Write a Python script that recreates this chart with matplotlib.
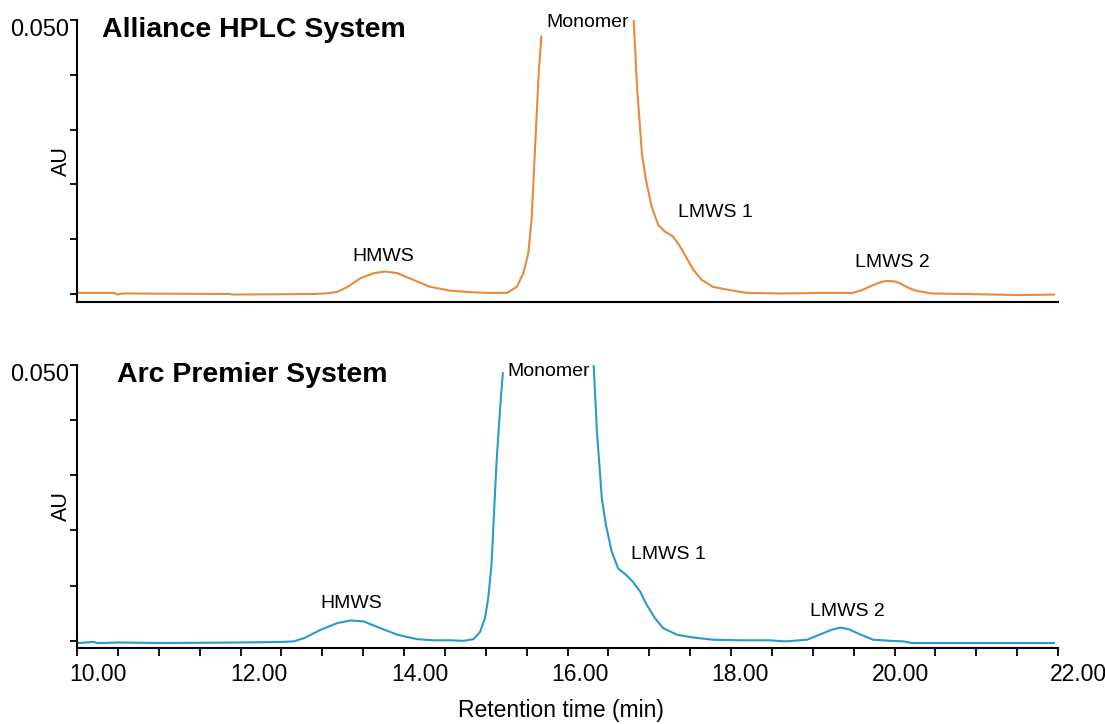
import numpy as np
import matplotlib.pyplot as plt
from matplotlib.transforms import ScaledTranslation

plt.rcParams['font.family'] = ['Liberation Sans', 'DejaVu Sans']

# Alliance HPLC trace (retention time in min, absorbance in AU); nan = off scale
t_alliance = [10.02, 10.45, 10.50, 10.55, 11.87, 11.90, 12.9, 13.04, 13.18, 13.31, 13.47, 13.63,
              13.77, 13.92, 14.11, 14.32, 14.57, 14.85, 15.05, 15.26, 15.38, 15.46, 15.52,
              15.56, 15.59, 15.62, 15.65, 15.68, 16.2, 16.81, 16.83, 16.85, 16.88,
              16.91, 16.96, 17.03, 17.11, 17.19, 17.29, 17.38, 17.46, 17.54, 17.64,
              17.78, 17.99, 18.19, 18.60, 19.13, 19.49, 19.60, 19.69, 19.80, 19.90,
              20.00, 20.06, 20.16, 20.26, 20.46, 21.23, 21.5, 21.95]
au_alliance = [0.0002, 0.0002, -0.0001, 0.0001, 0.0, -0.0001, 0.0, 0.0001, 0.00036, 0.0013, 0.0029, 0.0038,
               0.0041, 0.0038, 0.0026, 0.0013, 0.0006, 0.0003, 0.0002, 0.0002, 0.0013, 0.0038, 0.0074,
               0.0135, 0.0226, 0.0318, 0.0409, 0.0470, np.nan, 0.0500, 0.0440, 0.0378, 0.0318,
               0.0257, 0.0208, 0.0159, 0.0126, 0.0114, 0.0105, 0.0086, 0.0065, 0.0044, 0.0026,
               0.0013, 0.0007, 0.0002, 0.0001, 0.0002, 0.0002, 0.0007, 0.0013, 0.0020, 0.0024,
               0.0023, 0.0020, 0.0012, 0.0006, 0.0001, -0.0001, -0.0002, -0.0001]

# Arc Premier trace
t_arc = [10.02, 10.20, 10.25, 10.30, 10.50, 11.03, 12.0, 12.5, 12.65, 12.78, 12.98, 13.18, 13.35,
         13.51, 13.71, 13.92, 14.16, 14.36, 14.56, 14.73, 14.85, 14.93, 14.99, 15.03,
         15.07, 15.10, 15.13, 15.17, 15.20, 15.21, 15.8, 16.32, 16.34, 16.36, 16.39,
         16.42, 16.47, 16.54, 16.62, 16.72, 16.80, 16.89, 16.97, 17.07, 17.17,
         17.34, 17.54, 17.78, 18.11, 18.46, 18.67, 18.93, 19.08, 19.23, 19.34,
         19.44, 19.59, 19.74, 19.95, 20.11, 20.21, 21.95]
au_arc = [-0.0004, -0.0002, -0.0004, -0.0004, -0.0003, -0.0004, -0.0003, -0.0002, -0.0001, 0.0005, 0.0020, 0.0032, 0.0037,
          0.0035, 0.0023, 0.0011, 0.0003, 0.0001, 0.0001, 0.0, 0.0003, 0.0016, 0.0041, 0.0077,
          0.0137, 0.0228, 0.0319, 0.0409, 0.0470, 0.0485, np.nan, 0.0500, 0.0440, 0.0379, 0.0319,
          0.0258, 0.0210, 0.0162, 0.0131, 0.0119, 0.0107, 0.0089, 0.0065, 0.0041, 0.0023,
          0.0011, 0.0006, 0.0002, 0.0001, 0.0001, -0.0001, 0.0002, 0.0011, 0.0020, 0.0024,
          0.0021, 0.0011, 0.0002, 0.0, -0.0001, -0.0004, -0.0004]

peak_names = ['HMWS', 'Monomer', 'LMWS 1', 'LMWS 2']
label_t_alliance = [13.75, 16.25, 17.81, 19.98]
label_au_alliance = [0.0069, 0.0495, 0.0148, 0.0058]
label_t_arc = [13.35, 15.77, 17.24, 19.42]
label_au_arc = [0.0067, 0.0488, 0.0156, 0.0054]

xtick_vals = [10, 12, 14, 16, 18, 20, 22]
xtick_labels = ['10.00', '12.00', '14.00', '16.00', '18.00', '20.00', '22.00']
ytick_vals = [0, 0.01, 0.02, 0.03, 0.04, 0.05]
ytick_labels = ['', '', '', '', '', '0.050']

# horizontal offsets (px) of the x tick labels from their ticks, as in the source image
xlabel_shift_px = [21, 18.5, 16, 12.5, 9, 5.5, 20]

fig = plt.figure(figsize=(11.05, 7.24), dpi=100)
ax1 = fig.add_axes([77/1105, 1 - 302/724, 981/1105, 282/724])
ax2 = fig.add_axes([77/1105, 1 - 648/724, 981/1105, 283/724])

panels = [
    (ax1, t_alliance, au_alliance, '#E8893B', 'Alliance HPLC System', 0.0255,
     label_t_alliance, label_au_alliance, -0.00146),
    (ax2, t_arc, au_arc, '#2A9ACA', 'Arc Premier System', 0.041,
     label_t_arc, label_au_arc, -0.0013),
]

down = ScaledTranslation(0, -7/100, fig.dpi_scale_trans)
for ax, t, au, col, title, title_x, lt, la, ymin in panels:
    ax.plot(t, au, color=col, lw=1.5)
    ax.set_xlim(10, 22)
    ax.set_ylim(ymin, 0.05)
    for s in ['top', 'right']:
        ax.spines[s].set_visible(False)
    for s in ['left', 'bottom']:
        ax.spines[s].set_linewidth(1.5)
    ax.set_yticks(ytick_vals)
    ax.set_yticklabels(ytick_labels, fontsize=17)
    ax.tick_params(axis='y', length=5, width=1.3, pad=1)
    for lab in ax.get_yticklabels():
        lab.set_transform(lab.get_transform() + down)
    ax.set_ylabel('AU', fontsize=15.5)
    ax.yaxis.set_label_coords(-0.005, 0.5)
    ax.text(title_x, 0.965, title, transform=ax.transAxes, fontsize=20.5,
            fontweight='bold', va='center', ha='left')
    for name, x, y in zip(peak_names, lt, la):
        ax.text(x, y, name, fontsize=14, ha='center', va='center', clip_on=False)

ax1.set_xticks([])

ax2.set_xticks(xtick_vals)
ax2.set_xticklabels(xtick_labels, fontsize=16.5)
ax2.set_xticks(np.arange(10.5, 22.01, 0.5), minor=True)
ax2.tick_params(axis='x', which='major', length=6, width=1.3, pad=5)
ax2.tick_params(axis='x', which='minor', length=6, width=1.3)
for lab, dx in zip(ax2.get_xticklabels(), xlabel_shift_px):
    lab.set_transform(lab.get_transform() + ScaledTranslation(dx/100, 0, fig.dpi_scale_trans))

fig.text(561/1105, 1 - 710/724, 'Retention time (min)', fontsize=16.5, ha='center', va='center')

fig.savefig('out.png', dpi=100)
